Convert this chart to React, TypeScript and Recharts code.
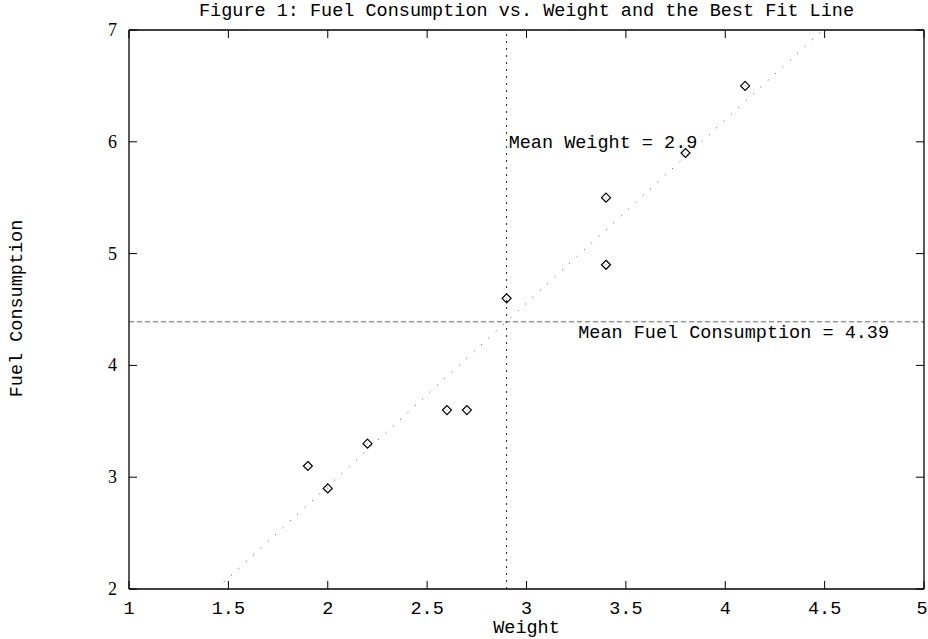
import React from "react";
import {
  ScatterChart,
  Scatter,
  XAxis,
  YAxis,
  ReferenceLine,
  ReferenceDot,
} from "recharts";

const weights = [1.9, 2.0, 2.2, 2.6, 2.7, 2.9, 3.4, 3.4, 3.8, 4.1];
const fuel = [3.1, 2.9, 3.3, 3.6, 3.6, 4.6, 4.9, 5.5, 5.9, 6.5];

const meanWeight = 2.9;
const meanFuel = 4.39;

// best fit line end points (where it leaves the plot)
const fitX = [1.44, 4.49];
const fitY = [2, 7];

const xTicks = [1, 1.5, 2, 2.5, 3, 3.5, 4, 4.5, 5];
const yTicks = [2, 3, 4, 5, 6, 7];

const title = "Figure 1: Fuel Consumption vs. Weight and the Best Fit Line";
const meanWeightLabel = "Mean Weight = 2.9";
const meanFuelLabel = "Mean Fuel Consumption = 4.39";
const meanFuelLabelAt = { x: 3.25, y: 4.3 };

const points = weights.map((w, i) => ({ x: w, y: fuel[i] }));
const fitLine = fitX.map((x, i) => ({ x, y: fitY[i] }));

const MONO = "'Liberation Mono', 'DejaVu Sans Mono', monospace";
const SERIF = "'Liberation Serif', 'DejaVu Serif', serif";
const TICK = 8;

const Diamond = (props: any) => {
  const { cx, cy } = props;
  const r = 4.5;
  return (
    <g>
      <path
        d={`M${cx},${cy - r}L${cx + r},${cy}L${cx},${cy + r}L${cx - r},${cy}Z`}
        fill="none"
        stroke="#000"
        strokeWidth={1.2}
      />
      <rect x={cx - 0.5} y={cy - 0.5} width={1} height={1} fill="#999" />
    </g>
  );
};

const NoDot = () => <g />;

const BottomTick = (props: any) => {
  const { x, y, payload } = props;
  // keep the last label inside the picture
  const tx = Math.min(x, 922);
  return (
    <g>
      <line x1={x} y1={y} x2={x} y2={y - TICK} stroke="#000" />
      <text x={tx} y={y + 25} textAnchor="middle" fontFamily={MONO} fontSize={18.5} fill="#000">
        {payload.value}
      </text>
    </g>
  );
};

const TopTick = (props: any) => {
  const { x, y } = props;
  return <line x1={x} y1={y} x2={x} y2={y + TICK} stroke="#000" />;
};

const LeftTick = (props: any) => {
  const { x, y, payload } = props;
  return (
    <g>
      <line x1={x} y1={y} x2={x + TICK} y2={y} stroke="#000" />
      <text x={x - 12} y={y + 6} textAnchor="end" fontFamily={SERIF} fontSize={18} fill="#000">
        {payload.value}
      </text>
    </g>
  );
};

const RightTick = (props: any) => {
  const { x, y } = props;
  return <line x1={x} y1={y} x2={x - TICK} y2={y} stroke="#000" />;
};

const YLabel = (props: any) => {
  const { viewBox } = props;
  const cx = 17;
  const cy = viewBox.y + viewBox.height / 2 - 1;
  return (
    <text
      x={cx}
      y={cy}
      transform={`rotate(-90 ${cx} ${cy})`}
      textAnchor="middle"
      dominantBaseline="central"
      fontFamily={MONO}
      fontSize={18.5}
      fill="#000"
    >
      Fuel Consumption
    </text>
  );
};

const TitleLabel = (props: any) => {
  const { viewBox } = props;
  return (
    <text
      x={viewBox.x + viewBox.width / 2}
      y={16}
      textAnchor="middle"
      fontFamily={MONO}
      fontSize={18.5}
      fill="#000"
    >
      {title}
    </text>
  );
};

const labelShape = (text: string) => (props: any) => (
  <text x={props.cx + 2} y={props.cy + 6.5} textAnchor="start" fontFamily={MONO} fontSize={18.5} fill="#000">
    {text}
  </text>
);

const axisLine = { stroke: "#000", strokeWidth: 1.3 };

export default function App() {
  return (
    <div style={{ position: "absolute", left: 0, top: 0, background: "#fff" }}>
      <ScatterChart width={928} height={639} margin={{ top: 29, right: 3, bottom: 0, left: 0 }}>
        <XAxis
          xAxisId={0}
          dataKey="x"
          type="number"
          domain={[1, 5]}
          ticks={xTicks}
          interval={0}
          allowDataOverflow
          height={50}
          tickSize={0}
          tickMargin={0}
          tickLine={false}
          tick={BottomTick}
          axisLine={axisLine}
          label={{ value: "Weight", position: "insideBottom", offset: 6, fontFamily: MONO, fontSize: 18.5, fill: "#000" }}
        />
        <XAxis
          xAxisId="top"
          orientation="top"
          dataKey="x"
          type="number"
          domain={[1, 5]}
          ticks={xTicks}
          interval={0}
          allowDataOverflow
          height={1}
          tickSize={0}
          tickMargin={0}
          tickLine={false}
          tick={TopTick}
          axisLine={axisLine}
          label={TitleLabel}
        />
        <YAxis
          yAxisId={0}
          dataKey="y"
          type="number"
          domain={[2, 7]}
          ticks={yTicks}
          interval={0}
          allowDataOverflow
          width={129}
          tickSize={0}
          tickMargin={0}
          tickLine={false}
          tick={LeftTick}
          axisLine={axisLine}
          label={YLabel}
        />
        <YAxis
          yAxisId="right"
          orientation="right"
          dataKey="y"
          type="number"
          domain={[2, 7]}
          ticks={yTicks}
          interval={0}
          allowDataOverflow
          width={1}
          tickSize={0}
          tickMargin={0}
          tickLine={false}
          tick={RightTick}
          axisLine={axisLine}
        />
        <ReferenceLine x={meanWeight} stroke="#222" strokeDasharray="2 5" />
        <ReferenceLine y={meanFuel} stroke="#666" strokeDasharray="5 3" />
        <Scatter
          data={fitLine}
          line={{ stroke: "#444", strokeWidth: 1, strokeDasharray: "1 9" }}
          shape={NoDot}
          isAnimationActive={false}
        />
        <Scatter data={points} shape={Diamond} isAnimationActive={false} />
        <ReferenceDot x={meanWeight} y={6} r={0} shape={labelShape(meanWeightLabel)} />
        <ReferenceDot x={meanFuelLabelAt.x} y={meanFuelLabelAt.y} r={0} shape={labelShape(meanFuelLabel)} />
      </ScatterChart>
    </div>
  );
}
